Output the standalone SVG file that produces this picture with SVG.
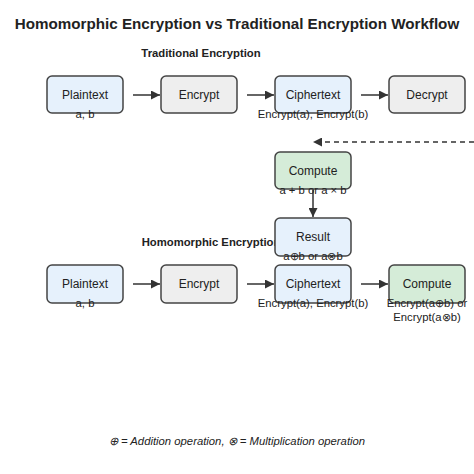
<svg xmlns="http://www.w3.org/2000/svg" width="474" height="474" viewBox="0 0 474 474">
<style>
text{font-family:"Liberation Sans",Arial,sans-serif;fill:#222}
.box rect{stroke:#444;stroke-width:1.5}
.blue rect{fill:#e6f1fc}
.grey rect{fill:#eeeeee}
.green rect{fill:#d5ecd8}
.lbl{font-size:12px;text-anchor:middle}
.sub{font-size:11.3px;text-anchor:middle}
.hdr{font-size:11.3px;font-weight:bold;text-anchor:middle}
.conn line{stroke:#333;stroke-width:1.5}
</style>
<defs>
<marker id="ah" viewBox="0 0 10 10" refX="10" refY="5" markerWidth="6" markerHeight="6" orient="auto">
<path d="M0,0 L10,5 L0,10 z" fill="#333"/>
</marker>
</defs>
<rect width="474" height="474" fill="#fff"/>
<text x="237" y="29" style="font-size:15.2px;font-weight:bold;text-anchor:middle">Homomorphic Encryption vs Traditional Encryption Workflow</text>
<text class="hdr" x="201" y="57">Traditional Encryption</text>
<text class="hdr" x="211" y="246">Homomorphic Encryption</text>

<g id="conns" class="conn">
<line x1="133" y1="95" x2="160" y2="95" marker-end="url(#ah)"/>
<line x1="247" y1="95" x2="274" y2="95" marker-end="url(#ah)"/>
<line x1="361" y1="95" x2="388" y2="95" marker-end="url(#ah)"/>
<line x1="474" y1="142" x2="313" y2="142" stroke-dasharray="5,4" marker-end="url(#ah)"/>
<line x1="313" y1="190" x2="313" y2="217" marker-end="url(#ah)"/>
<line x1="133" y1="284" x2="160" y2="284" marker-end="url(#ah)"/>
<line x1="247" y1="284" x2="274" y2="284" marker-end="url(#ah)"/>
<line x1="361" y1="284" x2="388" y2="284" marker-end="url(#ah)"/>
</g>

<g id="t-plain" class="box blue"><rect x="47" y="76" width="76" height="37" rx="5"/><text class="lbl" x="85" y="99">Plaintext</text><text class="sub" x="85" y="118">a, b</text></g>
<g id="t-enc" class="box grey"><rect x="161" y="76" width="76" height="37" rx="5"/><text class="lbl" x="199" y="99">Encrypt</text></g>
<g id="t-cipher" class="box blue"><rect x="275" y="76" width="76" height="37" rx="5"/><text class="lbl" x="313" y="99">Ciphertext</text><text class="sub" x="313" y="118">Encrypt(a), Encrypt(b)</text></g>
<g id="t-dec" class="box grey"><rect x="389" y="76" width="76" height="37" rx="5"/><text class="lbl" x="427" y="99">Decrypt</text></g>

<g id="compute" class="box green"><rect x="275" y="152" width="76" height="37" rx="5"/><text class="lbl" x="313" y="175">Compute</text><text class="sub" x="313" y="194">a + b or a × b</text></g>
<g id="result" class="box blue"><rect x="275" y="218" width="76" height="38" rx="5"/><text class="lbl" x="313" y="241">Result</text><text class="sub" x="313" y="260">a⊕b or a⊗b</text></g>

<g id="h-plain" class="box blue"><rect x="47" y="265" width="76" height="38" rx="5"/><text class="lbl" x="85" y="288">Plaintext</text><text class="sub" x="85" y="307">a, b</text></g>
<g id="h-enc" class="box grey"><rect x="161" y="265" width="76" height="38" rx="5"/><text class="lbl" x="199" y="288">Encrypt</text></g>
<g id="h-cipher" class="box blue"><rect x="275" y="265" width="76" height="38" rx="5"/><text class="lbl" x="313" y="288">Ciphertext</text><text class="sub" x="313" y="307">Encrypt(a), Encrypt(b)</text></g>
<g id="h-compute" class="box green"><rect x="389" y="265" width="76" height="38" rx="5"/><text class="lbl" x="427" y="288">Compute</text><text class="sub" x="427" y="307">Encrypt(a⊕b) or</text><text class="sub" x="427" y="321">Encrypt(a⊗b)</text></g>

<text x="237" y="445" style="font-size:11.3px;font-style:italic;text-anchor:middle">⊕ = Addition operation, ⊗ = Multiplication operation</text>
</svg>
